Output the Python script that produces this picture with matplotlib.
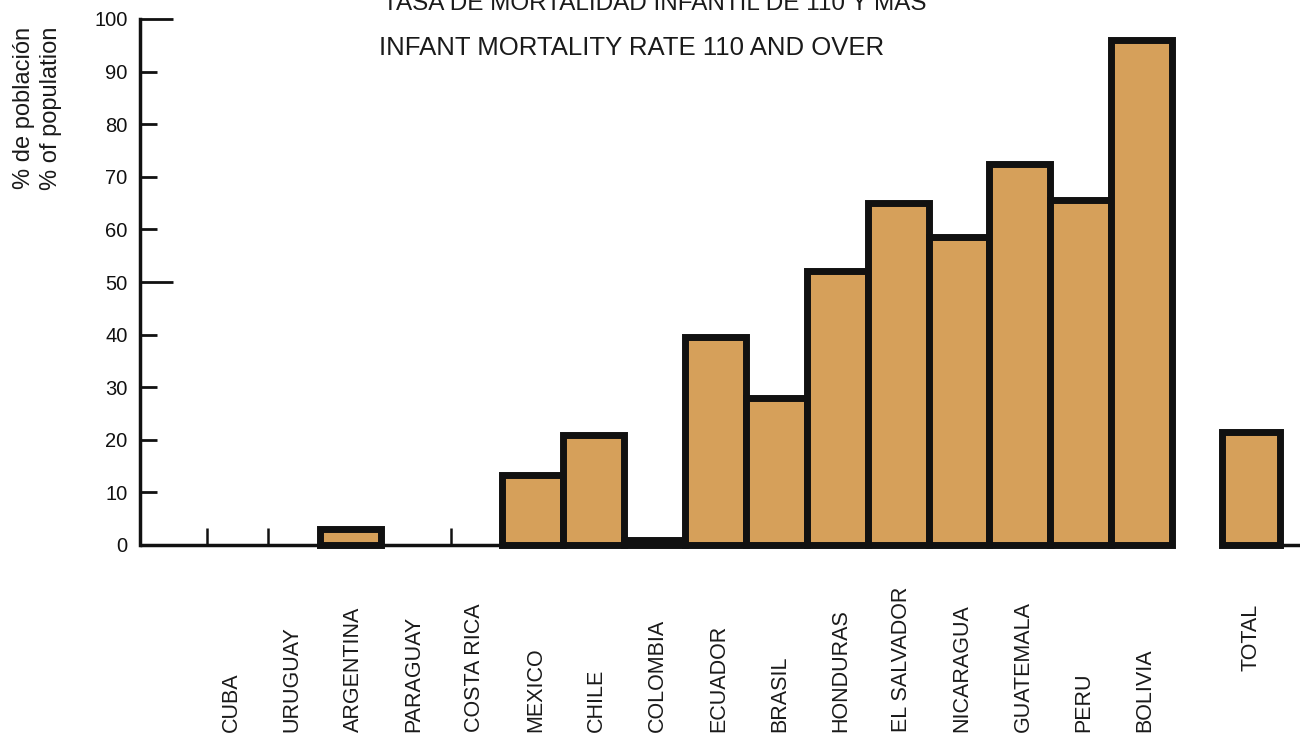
import matplotlib.pyplot as plt
import numpy as np

plt.rcParams['font.family'] = ['Liberation Sans', 'DejaVu Sans']

countries = ['CUBA', 'URUGUAY', 'ARGENTINA', 'PARAGUAY', 'COSTA RICA', 'MEXICO',
             'CHILE', 'COLOMBIA', 'ECUADOR', 'BRASIL', 'HONDURAS', 'EL SALVADOR',
             'NICARAGUA', 'GUATEMALA', 'PERU', 'BOLIVIA']
values = [0, 0, 3, 0, 0, 13.3, 21, 1, 39.5, 28, 52, 65, 58.5, 72.5, 65.5, 96]
total_label = 'TOTAL'
total_value = 21.5
zero_marks = ['CUBA', 'URUGUAY', 'COSTA RICA']  # little stubs on the baseline
yticks = list(range(0, 101, 10))

bar_color = '#D6A05A'
edge = '#111111'

fig = plt.figure(figsize=(13, 7.37), dpi=100)
ax = fig.add_axes([140 / 1300, 1 - 545 / 737, 1 - 140 / 1300, (545 - 19) / 737])

x = np.arange(len(countries))
x_total = len(countries) + 0.8
w = 1.0

ax.bar(x[np.array(values) > 0], [v for v in values if v > 0], width=w,
       color=bar_color, edgecolor=edge, linewidth=5, clip_on=False, zorder=3)
ax.bar([x_total], [total_value], width=0.95, color=bar_color, edgecolor=edge,
       linewidth=5, clip_on=False, zorder=3)

# baseline, broken between BOLIVIA and TOTAL
ax.hlines(0, -1.45, x[-1] + w / 2, color=edge, linewidth=2.5, clip_on=False, zorder=4)
ax.hlines(0, x_total - 0.5, 17.6, color=edge, linewidth=2.5, clip_on=False, zorder=4)
for c in zero_marks:
    xi = countries.index(c) - 0.35
    ax.vlines(xi, 0, 3.3, color=edge, linewidth=1.8, zorder=4)

ax.set_xlim(-1.45, 17.6)
ax.set_ylim(0, 100)
for s in ['top', 'right', 'bottom']:
    ax.spines[s].set_visible(False)
ax.spines['left'].set_linewidth(2.5)
ax.spines['left'].set_color(edge)

ax.set_xticks([])
ax.set_yticks(yticks)
ax.set_yticklabels([str(t) for t in yticks], fontsize=14.5)
ax.tick_params(axis='y', direction='in', length=12, width=2, pad=9, colors=edge)
for t, tk in zip(yticks, ax.yaxis.get_major_ticks()):
    if t in (50, 100):
        tk.tick1line.set_markersize(24)

# category labels under the axis
for xi, name in zip(x, countries):
    ax.text(xi + 0.05, -35.6, name, rotation=90, ha='center', va='bottom',
            fontsize=15.5, color='#1a1a1a', clip_on=False)
ax.text(x_total, -24.0, total_label, rotation=90, ha='center', va='bottom',
        fontsize=15.5, color='#1a1a1a', clip_on=False)

# titles (the first line is cropped at the top, as in the source)
fig.text(655 / 1300, 1 - 10 / 737, 'TASA DE MORTALIDAD INFANTIL DE 110 Y MAS',
         ha='center', va='baseline', fontsize=17.5, color='#1a1a1a')
fig.text(632 / 1300, 1 - 55 / 737, 'INFANT MORTALITY RATE 110 AND OVER',
         ha='center', va='baseline', fontsize=18.5, color='#1a1a1a')

# y axis labels
fig.text(24 / 1300, 1 - 108 / 737, '% de población', rotation=90,
         ha='center', va='center', fontsize=17, color='#1a1a1a')
fig.text(51 / 1300, 1 - 108 / 737, '% of population', rotation=90,
         ha='center', va='center', fontsize=17, color='#1a1a1a')

fig.savefig('out.png', dpi=100, facecolor='white')
